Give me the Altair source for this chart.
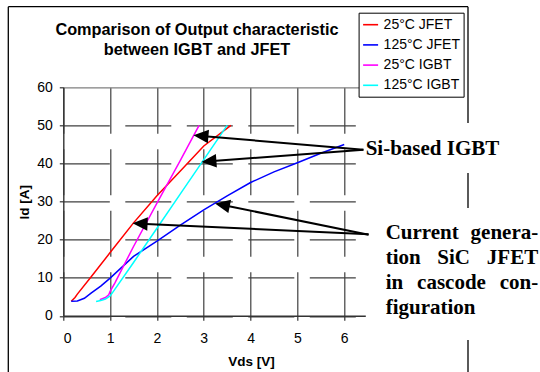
import math
import altair as alt
import pandas as pd

# ---------------- data ----------------
names = ["25°C JFET", "125°C JFET", "25°C IGBT", "125°C IGBT"]
colors = ["#ff0000", "#0000ff", "#ff00ff", "#00ffff"]

jfet25_x = [0.17, 0.25, 0.30, 0.60, 1.00, 1.50, 2.00, 2.50, 3.00, 3.58]
jfet25_y = [3.8, 4.8, 5.7, 10.3, 16.6, 24.4, 31.5, 38.0, 44.6, 50.0]

jfet125_x = [0.17, 0.30, 0.45, 0.60, 0.80, 1.00, 1.50, 2.00, 2.50, 3.00, 3.50, 4.00, 4.50, 5.00, 5.50, 6.00]
jfet125_y = [3.8, 3.9, 4.6, 6.0, 7.8, 9.9, 15.6, 19.6, 23.8, 27.8, 31.5, 35.0, 37.8, 40.2, 42.7, 45.0]

igbt25_x = [0.78, 0.90, 0.97, 1.00, 1.10, 1.50, 2.00, 2.50, 2.90]
igbt25_y = [4.2, 4.8, 5.5, 6.4, 8.6, 18.2, 29.6, 40.8, 50.0]

igbt125_x = [0.70, 0.80, 0.90, 1.00, 1.07, 1.50, 2.00, 2.50, 3.00, 3.50]
igbt125_y = [3.75, 4.0, 4.4, 5.2, 6.4, 14.0, 23.0, 32.0, 41.0, 50.0]

x_ticks = [0, 1, 2, 3, 4, 5, 6]
y_ticks = [0, 10, 20, 30, 40, 50, 60]

title_lines = ["Comparison of Output characteristic", "between IGBT and JFET"]

# arrows: (origin x, origin y, tip x, tip y) in data units
arrow_ox = [6.41, 6.41, 6.52, 6.52]
arrow_oy = [43.6, 43.6, 21.4, 21.3]
arrow_tx = [2.78, 2.95, 1.48, 3.24]
arrow_ty = [47.4, 40.4, 24.3, 29.5]

# annotation words (data units: anchor x, baseline y)
left_words = ["Si-based IGBT", "Current", "tion", "in", "figuration"]
left_x = [6.457, 6.885, 6.885, 6.885, 6.885]
left_y = [42.22, 20.17, 13.52, 6.96, 0.39]
right_words = ["genera-", "JFET", "con-"]
right_x = [10.143, 10.143, 10.143]
right_y = [20.17, 13.52, 6.96]
mid_words = ["SiC", "cascode"]
mid_x = [8.338, 8.291]
mid_y = [13.52, 6.96]

# ---------------- geometry ----------------
X_MAX = 6.45
W = 302
H = 228.5
PXX = W / X_MAX
PXY = H / 60.0

rows = []
for name, xs, ys in zip(names, [jfet25_x, jfet125_x, igbt25_x, igbt125_x],
                        [jfet25_y, jfet125_y, igbt25_y, igbt125_y]):
    for i, (xv, yv) in enumerate(zip(xs, ys)):
        rows.append({"series": name, "vds": xv, "id": yv, "order": i})
df = pd.DataFrame(rows)

arr_rows = []
for ox, oy, tx, ty in zip(arrow_ox, arrow_oy, arrow_tx, arrow_ty):
    dxp = (tx - ox) * PXX
    dyp = -(ty - oy) * PXY
    L = math.hypot(dxp, dyp)
    ang = math.degrees(math.atan2(dxp, -dyp)) % 360
    back = 8.0
    ex = tx - (dxp / L) * back / PXX
    ey = ty + (dyp / L) * back / PXY
    arr_rows.append({"vds": ox, "id": oy, "vds2": ex, "id2": ey,
                     "tx": tx, "ty": ty, "ang": ang})
arr = pd.DataFrame(arr_rows)

xscale = alt.Scale(domain=[0, X_MAX], nice=False, zero=False)
yscale = alt.Scale(domain=[0, 60], nice=False, zero=False)

GRID = "#404040"
x_axis = alt.Axis(
    values=x_ticks, tickCount=7, format="d", title="Vds [V]",
    titleX=187.7, titleY=49.7, titleBaseline="alphabetic", titleAlign="center",
    titleFontSize=13.5, titleFontWeight="bold", titleColor="black",
    labelFontSize=14, labelColor="black", labelPadding=11, labelOverlap=False,
    tickSize=4.5, tickColor="#333", tickWidth=1.2,
    domainColor="#333", domainWidth=1.6,
    grid=True, gridColor=GRID, gridWidth=1.2, gridDash=[46, 15.5],
)
y_axis = alt.Axis(
    values=y_ticks, tickCount=7, title="Id [A]",
    titleX=-35, titleY=114.4, titleAngle=270, titleBaseline="alphabetic",
    titleAlign="center", titleFontSize=13.5, titleFontWeight="bold",
    titleColor="black",
    labelFontSize=14, labelColor="black", labelPadding=7, labelOverlap=False,
    tickSize=4, tickColor="#333", tickWidth=1.2,
    domainColor="#333", domainWidth=1.4,
    grid=True, gridWidth=1.2,
    gridColor={"condition": {"test": "datum.value === 60", "value": "#808080"}, "value": GRID},
    gridDash={"condition": {"test": "datum.value === 60", "value": [1, 0]}, "value": [46, 15.5]},
)

XE = alt.X("vds:Q", scale=xscale, axis=x_axis)
YE = alt.Y("id:Q", scale=yscale, axis=y_axis)

lines = alt.Chart(df).mark_line(strokeWidth=1.5, clip=False).encode(
    x=XE, y=YE,
    color=alt.Color(
        "series:N",
        scale=alt.Scale(domain=names, range=colors),
        sort=names,
        legend=alt.Legend(
            title=None, orient="none", legendX=295.3, legendY=-74.6,
            fillColor="white", strokeColor="black", padding=3.5,
            labelFontSize=14, labelFont="Liberation Sans", labelColor="black",
            symbolType="stroke", symbolSize=225, symbolStrokeWidth=1.6,
            labelOffset=4.5, rowPadding=4.2,
        ),
    ),
    order="order:Q",
)

arrow_lines = alt.Chart(arr).mark_rule(color="black", strokeWidth=2).encode(
    x=XE, y=YE, x2="vds2:Q", y2="id2:Q",
)

arrow_heads = alt.Chart(arr).mark_point(
    shape="M0,0L0.9,2L-0.9,2Z", filled=True, color="black", opacity=1,
    size=225, strokeWidth=0,
).transform_calculate(vds="datum.tx", id="datum.ty").encode(
    x=XE, y=YE,
    angle=alt.Angle("ang:Q", scale=None),
)

def words(texts, xs, ys, align):
    d = pd.DataFrame({"w": texts, "vds": xs, "id": ys})
    return alt.Chart(d).mark_text(
        align=align, baseline="alphabetic", font="Liberation Serif",
        fontWeight="bold", fontSize=21, color="black",
    ).encode(x=XE, y=YE, text="w:N")

one = pd.DataFrame({"k": [0]})
title_marks = [
    alt.Chart(one).mark_text(
        align="center", baseline="alphabetic", font="Liberation Sans",
        fontWeight="bold", fontSize=16.3, color="black",
    ).encode(x=alt.value(133.7), y=alt.value(ty), text=alt.value(t))
    for t, ty in zip(title_lines, [-52.8, -32.5])
]

frame_style = dict(color="black", strokeWidth=1.3)
frame = [
    alt.Chart(one).mark_rule(**frame_style).encode(
        x=alt.value(-55), y=alt.value(-80.6), y2=alt.value(300)),
    alt.Chart(one).mark_rule(**frame_style).encode(
        x=alt.value(-55), x2=alt.value(404.7), y=alt.value(-80.6)),
    alt.Chart(one).mark_rule(**frame_style).encode(
        x=alt.value(404.7), y=alt.value(-80.6), y2=alt.value(35.7)),
    alt.Chart(one).mark_rule(**frame_style).encode(
        x=alt.value(404.7), y=alt.value(85.7), y2=alt.value(120.7)),
    alt.Chart(one).mark_rule(**frame_style).encode(
        x=alt.value(404.7), y=alt.value(252.7), y2=alt.value(300)),
]

chart = alt.layer(
    lines, arrow_lines, arrow_heads,
    words(left_words, left_x, left_y, "left"),
    words(right_words, right_x, right_y, "right"),
    words(mid_words, mid_x, mid_y, "center"),
    *title_marks,
    *frame,
).properties(
    width=W, height=H,
    autosize=alt.AutoSizeParams(type="none"),
    padding={"left": 63.3, "top": 87.3, "right": 174.7, "bottom": 56.2},
).configure(
    font="Liberation Sans", background="white",
).configure_view(stroke=None)

chart.save("out.html", embed_options={"renderer": "svg", "actions": False})
